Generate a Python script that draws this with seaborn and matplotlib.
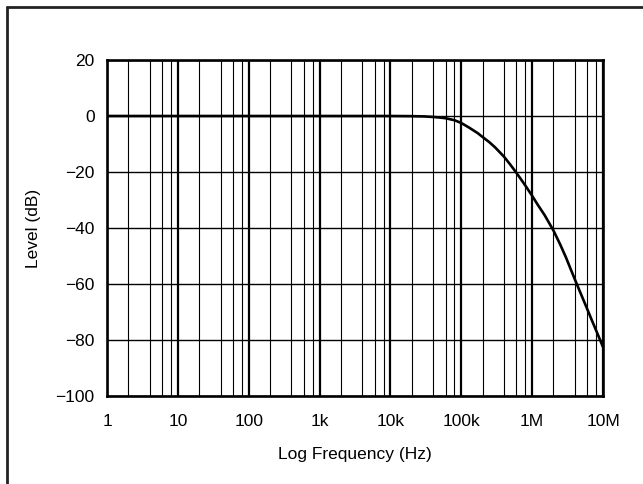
import numpy as np
import pandas as pd
import matplotlib
matplotlib.use("Agg")
import matplotlib.pyplot as plt
import matplotlib.ticker as mticker
from matplotlib.lines import Line2D
import seaborn as sns

# Estilo base
sns.set_theme(style="white")
plt.rcParams["font.family"] = ["Liberation Sans", "DejaVu Sans"]

# Dados
freq_hz = [1, 10, 100, 1e3, 1e4, 2e4, 3e4, 4e4, 5e4, 6e4, 8e4, 1e5, 1.3e5, 1.7e5, 2e5,
           2.5e5, 3e5, 4e5, 5e5, 6e5, 7e5, 8e5, 1e6, 1.2e6, 1.5e6, 1.7e6, 2e6, 2.5e6,
           3e6, 3.5e6, 4.2e6, 5e6, 6e6, 7e6, 8e6, 9e6, 1e7]
level_db = [0, 0, 0, 0, 0, -0.05, -0.15, -0.35, -0.55, -0.8, -1.5, -2.5, -4.2, -6.1, -7.5,
            -9.4, -11.2, -14.5, -17.6, -20.3, -22.7, -24.8, -28.5, -31.7, -35.4, -37.8,
            -40.9, -46.0, -50.5, -54.7, -59.6, -64.2, -69.0, -73.1, -76.6, -79.7, -82.5]

x_ticks = [1, 10, 100, 1e3, 1e4, 1e5, 1e6, 1e7]
x_labels = ["1", "10", "100", "1k", "10k", "100k", "1M", "10M"]
y_ticks = [20, 0, -20, -40, -60, -80, -100]

df = pd.DataFrame({"freq": freq_hz, "level": level_db})

fig = plt.figure(figsize=(6.43, 4.84), dpi=100)
ax = fig.add_axes([107 / 643, 1 - 396 / 484, 496 / 643, 336 / 484])

ax.set_xscale("log")
sns.lineplot(data=df, x="freq", y="level", color="black", linewidth=1.9, ax=ax, zorder=5)

ax.set_xlim(1, 1e7)
ax.set_ylim(-100, 20)

ax.set_xticks(x_ticks)
ax.set_xticklabels(x_labels)
ax.xaxis.set_minor_locator(mticker.LogLocator(base=10, subs=[2, 4, 6, 8], numticks=20))
ax.xaxis.set_minor_formatter(mticker.NullFormatter())
ax.set_yticks(y_ticks)
ax.set_yticklabels([str(v).replace("-", "\u2212") for v in y_ticks])

# Grade
ax.grid(which="major", axis="x", color="black", linewidth=1.6)
ax.grid(which="minor", axis="x", color="black", linewidth=0.8)
ax.grid(which="major", axis="y", color="black", linewidth=1.0)

ax.tick_params(axis="both", which="both", length=0, labelsize=12.5, colors="black")
ax.tick_params(axis="x", pad=13)
ax.tick_params(axis="y", pad=9)

for s in ax.spines.values():
    s.set_color("black")
    s.set_linewidth(1.9)

ax.set_xlabel("Log Frequency (Hz)", fontsize=12.5, color="black", labelpad=13)
ax.set_ylabel("Level (dB)", fontsize=12.5, color="black", labelpad=10)

# Moldura (apenas topo e esquerda visíveis)
fig.add_artist(Line2D([7 / 643, 7 / 643], [0, 1 - 7 / 484], transform=fig.transFigure,
                      color="#222222", linewidth=2))
fig.add_artist(Line2D([7 / 643, 1], [1 - 7 / 484, 1 - 7 / 484], transform=fig.transFigure,
                      color="#222222", linewidth=2))

fig.savefig("out.png", dpi=100)
